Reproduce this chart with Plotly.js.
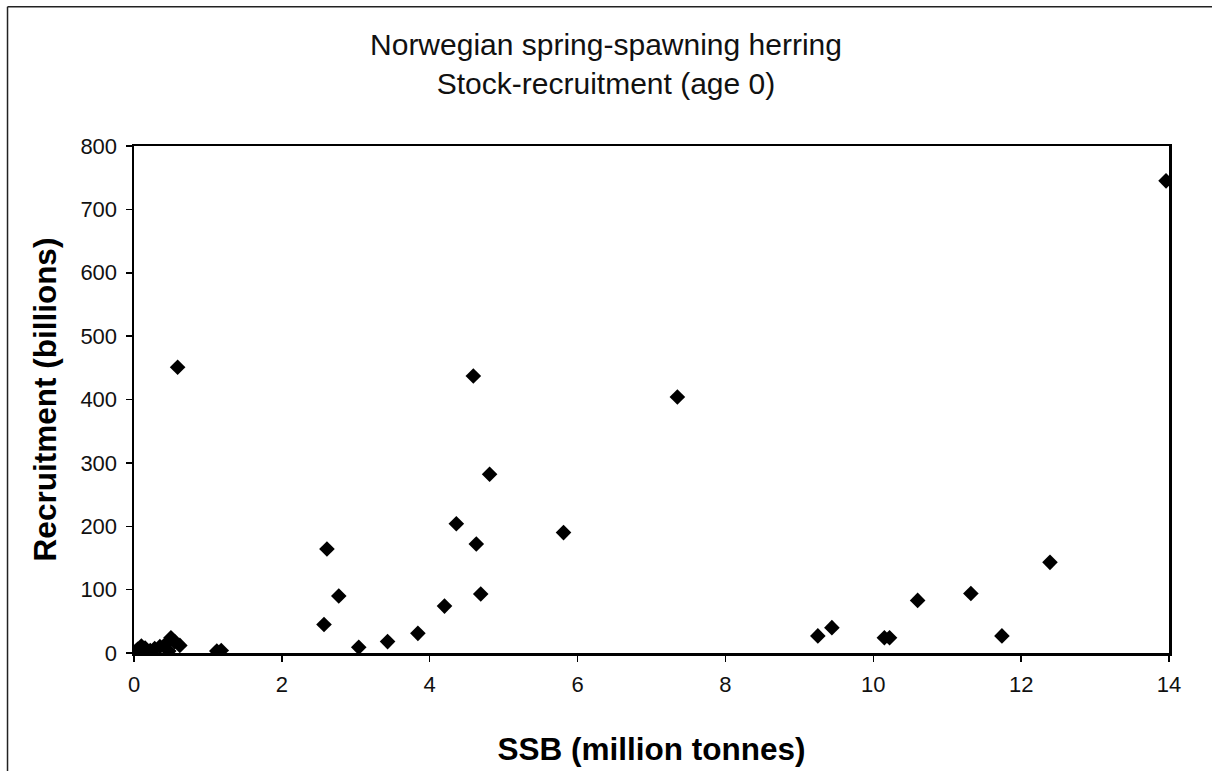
<!DOCTYPE html>
<html>
<head>
<meta charset="utf-8">
<script src="https://cdn.plot.ly/plotly-3.0.1.min.js"></script>
<style>
html,body{margin:0;padding:0;background:#fff;}
#chart{width:1212px;height:771px;}
</style>
</head>
<body>
<div id="chart"></div>
<script>
// SSB (million tonnes)
const ssb = [13.96, 0.59, 4.59, 7.35, 4.81, 4.36, 4.63, 2.61, 4.69, 2.77, 4.20, 2.57, 3.84, 3.43, 3.04,
             5.81, 9.25, 9.44, 10.15, 10.22, 10.60, 11.32, 11.74, 12.39,
             0.02, 0.05, 0.10, 0.15, 0.22, 0.28, 0.35, 0.42, 0.47, 0.50, 0.55, 0.62, 1.12, 1.18];
// Recruitment age 0 (billions)
const recruitment = [745, 451, 437, 404, 282, 204, 172, 164, 93, 90, 74, 45, 31, 18, 9,
                     190, 27, 40, 24, 24, 83, 94, 27, 143,
                     2, 6, 11, 8, 4, 7, 10, 13, 3, 24, 18, 12, 3, 4];
const xTicks = [0, 2, 4, 6, 8, 10, 12, 14];
const yTicks = [0, 100, 200, 300, 400, 500, 600, 700, 800];

const font = "'Liberation Sans', Arial, Helvetica, sans-serif";

const trace = {
  x: ssb, y: recruitment, type: 'scatter', mode: 'markers',
  marker: {symbol: 'diamond', size: 12, color: '#000'},
  hoverinfo: 'x+y', showlegend: false
};

const layout = {
  width: 1212, height: 771,
  paper_bgcolor: '#fff', plot_bgcolor: '#fff',
  margin: {l: 133.5, r: 43, t: 145.5, b: 117.5},
  font: {family: font, color: '#000'},
  title: {
    text: 'Norwegian spring-spawning herring<br>Stock-recruitment (age 0)',
    font: {size: 30, family: font, color: '#111'},
    x: 0.5, xref: 'container', xanchor: 'center',
    y: 0.929, yref: 'container', yanchor: 'middle'
  },
  xaxis: {
    range: [0, 14], tickvals: xTicks, ticktext: xTicks.map(String),
    showgrid: false, zeroline: false,
    showline: true, linecolor: '#000', linewidth: 2.5, mirror: true,
    ticks: 'outside', ticklen: 6, tickwidth: 1.5, tickcolor: '#000',
    ticklabelstandoff: 4,
    tickfont: {size: 22, family: font, color: '#111'},
    title: {text: '<b>SSB (million tonnes)</b>', font: {size: 31.5, family: font, color: '#000'}, standoff: 42}
  },
  yaxis: {
    range: [0, 800], tickvals: yTicks, ticktext: yTicks.map(String),
    showgrid: false, zeroline: false,
    showline: true, linecolor: '#000', linewidth: 2.5, mirror: true,
    ticks: 'outside', ticklen: 6, tickwidth: 1.5, tickcolor: '#000',
    ticklabelstandoff: 4,
    tickfont: {size: 22, family: font, color: '#111'},
    title: {text: '<b>Recruitment (billions)</b>', font: {size: 31.5, family: font, color: '#000'}, standoff: 15}
  },
  shapes: [
    {type: 'line', xref: 'paper', yref: 'paper', x0: -0.1222, x1: -0.1222, y0: 1.2746, y1: -0.24,
     line: {color: '#222', width: 1.5}},
    {type: 'line', xref: 'paper', yref: 'paper', x0: -0.1222, x1: 1.05, y0: 1.2746, y1: 1.2746,
     line: {color: '#222', width: 1.5}}
  ]
};

Plotly.newPlot('chart', [trace], layout, {displayModeBar: false, staticPlot: true});
</script>
</body>
</html>
